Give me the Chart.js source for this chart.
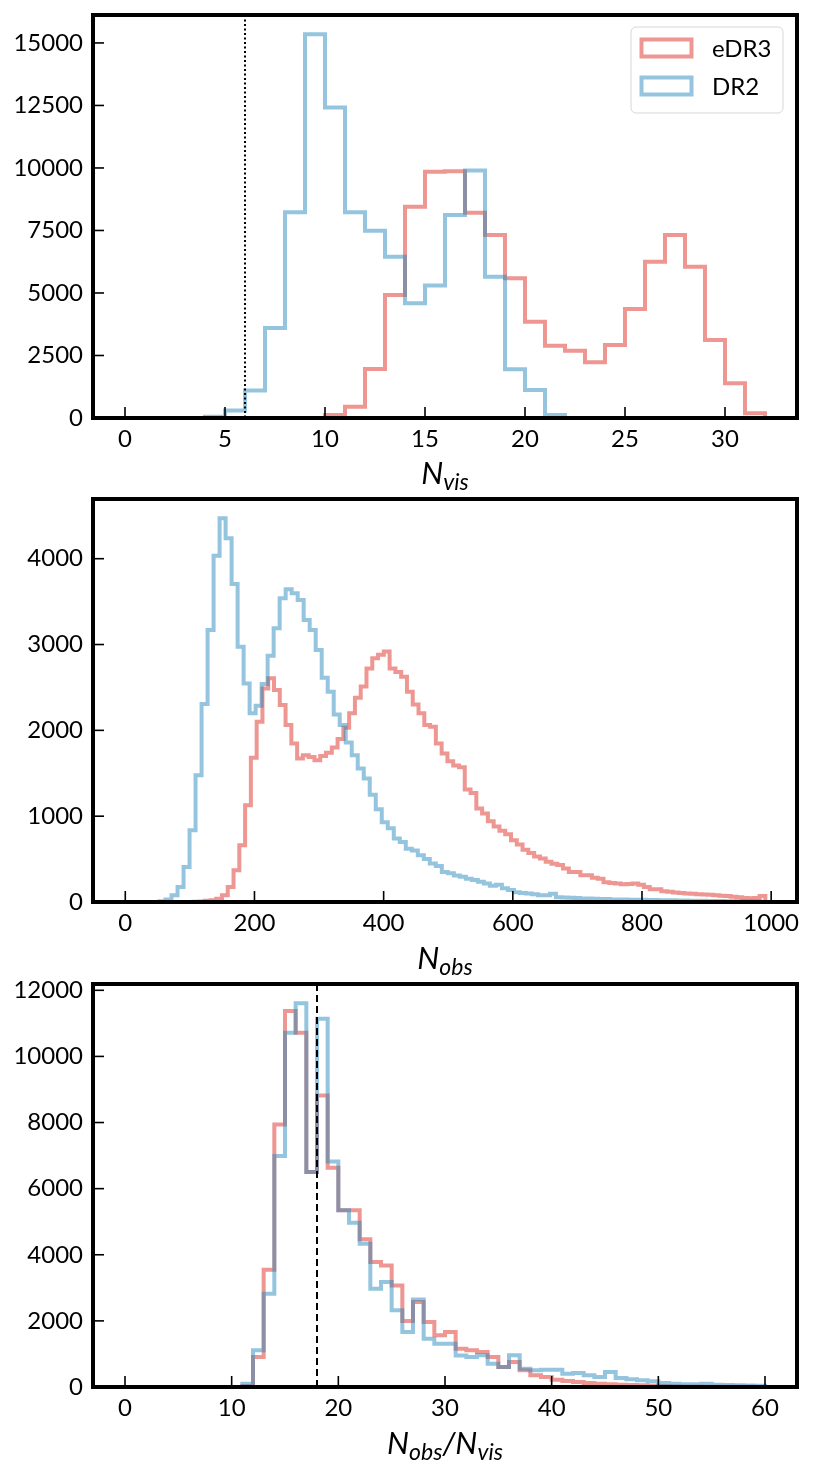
<!DOCTYPE html>
<html>
<head>
<meta charset="utf-8">
<script src="https://cdn.jsdelivr.net/npm/chart.js@4.4.1/dist/chart.umd.min.js"></script>
<style>
    html, body { margin: 0; padding: 0; background: #fff; }
    #wrap { position: relative; width: 814px; height: 1476px; }
    .panel { position: absolute; left: 0; width: 814px; }
</style>
</head>
<body>
<div id="wrap">
    <div class="panel" style="top:0;height:490px"><canvas id="visChart"></canvas></div>
    <div class="panel" style="top:490px;height:490px"><canvas id="obsChart"></canvas></div>
    <div class="panel" style="top:980px;height:496px"><canvas id="ratioChart"></canvas></div>
</div>
<script>
// Panel 1: N_vis, unit bins 0..32
const NVIS_EDGES = [0,1,2,3,4,5,6,7,8,9,10,11,12,13,14,15,16,17,18,19,20,21,22,23,24,25,26,27,28,29,30,31,32];
const NVIS_EDR3 = [0,0,0,0,0,0,0,0,0,0,120,450,1960,4920,8450,9850,9870,8210,7320,5590,3850,2890,2690,2230,2920,4360,6250,7320,6050,3120,1390,190];
const NVIS_DR2 = [0,0,0,0,50,300,1100,3600,8230,15350,12420,8230,7490,6450,4590,5300,8120,9900,5650,1950,1120,120,0,0,0,0,0,0,0,0,0,0];
const NVIS_XTICKS = [0,5,10,15,20,25,30];
const NVIS_YTICKS = [0,2500,5000,7500,10000,12500,15000];
const NVIS_CUT = 6;

// Panel 2: N_obs, 100 bins per release (own range each)
const NOBS_EDR3_START = 96, NOBS_EDR3_WIDTH = 8.95;
const NOBS_DR2_START = 53, NOBS_DR2_WIDTH = 9.3;
const NOBS_EDR3 = [0,2,5,15,20,39,78,175,370,662,
    1128,1680,2100,2489,2606,2470,2294,2061,1847,1672,
    1711,1690,1653,1700,1740,1800,1900,2030,2200,2380,
    2510,2720,2840,2880,2920,2720,2680,2625,2450,2300,
    2200,2061,2042,1847,1731,1640,1590,1570,1310,1270,
    1090,1030,940,880,830,790,720,670,610,570,
    530,506,470,447,430,389,350,350,311,311,
    284,270,230,222,215,206,210,215,200,175,
    150,148,125,120,110,105,100,95,90,88,
    85,80,74,70,60,55,47,45,48,70];
const NOBS_DR2 = [10,30,78,175,408,836,1478,2306,3170,4033,
    4472,4239,3706,2975,2547,2200,2287,2540,2870,3189,
    3539,3644,3597,3520,3286,3170,2936,2613,2450,2186,
    2061,1859,1711,1556,1439,1250,1080,930,860,740,
    700,620,600,545,500,450,420,350,335,310,
    295,270,255,235,215,190,200,160,140,115,
    105,100,90,80,78,97,55,52,50,48,
    42,40,38,36,35,30,29,28,27,26,
    25,24,23,21,20,19,18,17,16,15,
    14,13,12,11,10,10,9,8,8,7];
const NOBS_XTICKS = [0,200,400,600,800,1000];
const NOBS_YTICKS = [0,1000,2000,3000,4000];

// Panel 3: N_obs/N_vis, unit bins 0..60
const RATIO_EDGES = [0,1,2,3,4,5,6,7,8,9,10,11,12,13,14,15,16,17,18,19,20,21,22,23,24,25,26,27,28,29,30,
    31,32,33,34,35,36,37,38,39,40,41,42,43,44,45,46,47,48,49,50,51,52,53,54,55,56,57,58,59,60];
const RATIO_EDR3 = [0,0,0,0,0,0,0,0,0,0,0,30,908,3550,7944,11370,10715,6500,8820,6633,
    5343,5343,4469,3780,3679,3074,2000,2570,1966,1563,1663,1160,1109,1058,907,605,756,505,353,303,
    222,182,152,122,100,80,70,60,50,40,30,20,15,12,10,8,6,5,4,3];
const RATIO_DR2 = [0,0,0,0,0,0,0,0,0,0,0,100,1110,2824,6986,10715,11610,6500,11138,6825,
    5343,4970,4334,2974,3175,2318,1666,2650,1462,1310,1310,950,907,958,706,605,958,555,505,525,
    525,404,424,353,303,454,273,233,203,172,122,100,80,80,100,70,60,50,45,40];
const RATIO_XTICKS = [0,10,20,30,40,50,60];
const RATIO_YTICKS = [0,2000,4000,6000,8000,10000,12000];
const RATIO_MEDIAN = 18;

const RED = 'rgba(222, 45, 38, 0.5)';
const BLUE = 'rgba(43, 140, 190, 0.5)';
const FONT = 'Lato, "Open Sans", sans-serif';

function binEdges(start, width, n) {
    const e = [];
    for (let i = 0; i <= n; i++) e.push(start + i * width);
    return e;
}

// outline of a step histogram as points for a stepped line
function stepPoints(edges, counts) {
    const pts = [{ x: edges[0], y: 0 }];
    counts.forEach((c, i) => pts.push({ x: edges[i], y: c }));
    pts.push({ x: edges[counts.length], y: counts[counts.length - 1] });
    pts.push({ x: edges[counts.length], y: 0 });
    return pts;
}

const framePlugin = {
    id: 'frame',
    afterDatasetsDraw(chart, args, opts) {
        const { ctx, chartArea: a } = chart;
        const x = chart.scales.x, y = chart.scales.y;
        ctx.save();

        if (opts.refX !== undefined) {
            const px = x.getPixelForValue(opts.refX);
            ctx.strokeStyle = '#000';
            ctx.lineWidth = opts.refWidth;
            ctx.setLineDash(opts.refDash);
            ctx.beginPath();
            ctx.moveTo(px, a.top);
            ctx.lineTo(px, a.bottom);
            ctx.stroke();
            ctx.setLineDash([]);
        }

        // inward tick marks
        ctx.strokeStyle = '#000';
        ctx.lineWidth = 1.6;
        x.ticks.forEach(t => {
            const px = x.getPixelForValue(t.value);
            ctx.beginPath();
            ctx.moveTo(px, a.bottom);
            ctx.lineTo(px, a.bottom - 11);
            ctx.stroke();
        });
        y.ticks.forEach(t => {
            const py = y.getPixelForValue(t.value);
            ctx.beginPath();
            ctx.moveTo(a.left, py);
            ctx.lineTo(a.left + 11, py);
            ctx.stroke();
        });

        ctx.lineWidth = 4;
        ctx.strokeRect(a.left, a.top, a.right - a.left, a.bottom - a.top);

        // axis title with subscripts
        ctx.fillStyle = '#000';
        ctx.textBaseline = 'alphabetic';
        ctx.textAlign = 'left';
        let total = 0;
        const parts = opts.title.map(p => {
            ctx.font = 'italic ' + (p.sub ? 23 : 31) + 'px ' + FONT;
            const w = ctx.measureText(p.t).width;
            total += w;
            return { t: p.t, sub: p.sub, w };
        });
        let cx = (a.left + a.right) / 2 - total / 2;
        parts.forEach(p => {
            ctx.font = 'italic ' + (p.sub ? 23 : 31) + 'px ' + FONT;
            ctx.fillText(p.t, cx, opts.titleY + (p.sub ? 6 : 0));
            cx += p.w;
        });

        if (opts.legend) {
            const lx = 631, ly = 27, lw = 152, lh = 86;
            ctx.fillStyle = 'rgba(255,255,255,0.8)';
            ctx.strokeStyle = '#d6d6d6';
            ctx.lineWidth = 1;
            ctx.beginPath();
            ctx.roundRect(lx, ly, lw, lh, 5);
            ctx.fill();
            ctx.stroke();
            chart.data.datasets.forEach((ds, i) => {
                const ry = 39.5 + i * 38;
                ctx.strokeStyle = ds.borderColor;
                ctx.lineWidth = 4;
                ctx.strokeRect(641.5, ry, 50, 17);
                ctx.fillStyle = '#000';
                ctx.font = '24px ' + FONT;
                ctx.textBaseline = 'middle';
                ctx.fillText(ds.label, 712, ry + 9.5);
            });
        }
        ctx.restore();
    }
};

function makeChart(id, cfg) {
    const tickFont = { family: FONT, size: 24 };
    return new Chart(document.getElementById(id), {
        type: 'line',
        data: {
            datasets: [
                { label: 'eDR3', data: stepPoints(cfg.redEdges, cfg.red), borderColor: RED, order: 1 },
                { label: 'DR2', data: stepPoints(cfg.blueEdges, cfg.blue), borderColor: BLUE, order: 0 }
            ]
        },
        options: {
            responsive: true,
            maintainAspectRatio: false,
            animation: false,
            events: [],
            layout: { padding: { top: cfg.padTop, right: 17, left: 0, bottom: 0 } },
            elements: {
                point: { radius: 0 },
                line: { borderWidth: 4, stepped: true, tension: 0, fill: false,
                        borderJoinStyle: 'miter', borderCapStyle: 'butt' }
            },
            plugins: {
                legend: { display: false },
                tooltip: { enabled: false },
                frame: cfg.frame
            },
            scales: {
                x: {
                    type: 'linear',
                    min: cfg.xMin,
                    max: cfg.xMax,
                    afterBuildTicks: s => { s.ticks = cfg.xTicks.map(v => ({ value: v })); },
                    afterFit: s => { s.height = cfg.xHeight; s.paddingLeft = 0; s.paddingRight = 0; },
                    grid: { display: false, drawTicks: false },
                    border: { display: false },
                    ticks: { color: '#000', font: tickFont, padding: 7, maxRotation: 0,
                             autoSkip: false, callback: v => String(v) }
                },
                y: {
                    type: 'linear',
                    min: 0,
                    max: cfg.yMax,
                    afterBuildTicks: s => { s.ticks = cfg.yTicks.map(v => ({ value: v })); },
                    afterFit: s => { s.width = 93; s.paddingTop = 0; s.paddingBottom = 0; },
                    grid: { display: false, drawTicks: false },
                    border: { display: false },
                    ticks: { color: '#000', font: tickFont, padding: 10,
                             autoSkip: false, callback: v => String(v) }
                }
            }
        },
        plugins: [framePlugin]
    });
}

makeChart('visChart', {
    redEdges: NVIS_EDGES, blueEdges: NVIS_EDGES, red: NVIS_EDR3, blue: NVIS_DR2,
    xMin: -1.6, xMax: 33.6, xTicks: NVIS_XTICKS,
    yMax: Math.max(...NVIS_DR2, ...NVIS_EDR3) * 1.05, yTicks: NVIS_YTICKS,
    padTop: 15, xHeight: 72,
    frame: { title: [{ t: 'N' }, { t: 'vis', sub: true }], titleY: 484,
             refX: NVIS_CUT, refWidth: 2, refDash: [2, 2.5], legend: true }
});

makeChart('obsChart', {
    redEdges: binEdges(NOBS_EDR3_START, NOBS_EDR3_WIDTH, NOBS_EDR3.length),
    blueEdges: binEdges(NOBS_DR2_START, NOBS_DR2_WIDTH, NOBS_DR2.length),
    red: NOBS_EDR3, blue: NOBS_DR2,
    xMin: -50, xMax: 1040, xTicks: NOBS_XTICKS,
    yMax: Math.max(...NOBS_DR2, ...NOBS_EDR3) * 1.05, yTicks: NOBS_YTICKS,
    padTop: 9, xHeight: 78,
    frame: { title: [{ t: 'N' }, { t: 'obs', sub: true }], titleY: 479 }
});

makeChart('ratioChart', {
    redEdges: RATIO_EDGES, blueEdges: RATIO_EDGES, red: RATIO_EDR3, blue: RATIO_DR2,
    xMin: -3, xMax: 63, xTicks: RATIO_XTICKS,
    yMax: Math.max(...RATIO_DR2, ...RATIO_EDR3) * 1.05, yTicks: RATIO_YTICKS,
    padTop: 4, xHeight: 89,
    frame: { title: [{ t: 'N' }, { t: 'obs', sub: true }, { t: '/' }, { t: 'N' }, { t: 'vis', sub: true }],
             titleY: 474, refX: RATIO_MEDIAN, refWidth: 2, refDash: [7, 4] }
});
</script>
</body>
</html>
